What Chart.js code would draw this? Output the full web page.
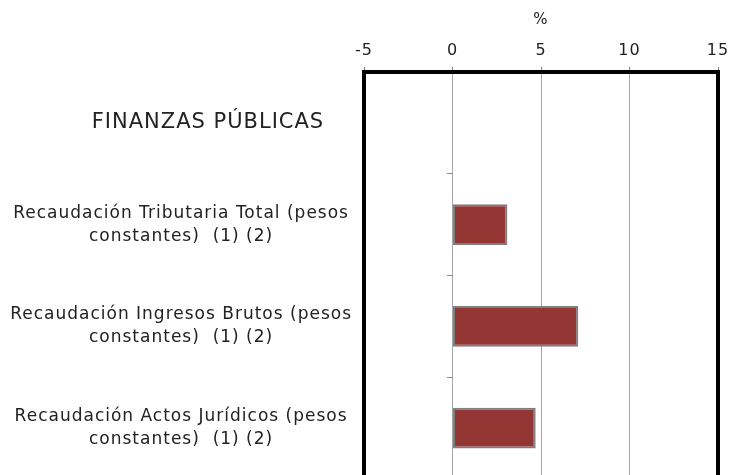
<!DOCTYPE html>
<html>
<head>
<meta charset="utf-8">
<script src="https://cdn.jsdelivr.net/npm/chart.js@4.4.1/dist/chart.umd.min.js"></script>
<style>
    html, body { margin: 0; padding: 0; background: #fff; overflow: hidden; }
    #wrap { width: 733px; height: 480px; }
</style>
</head>
<body>
<div id="wrap"><canvas id="chart" width="733" height="480"></canvas></div>
<script>
// categories (first one is only a section header)
const categories = [
    '\u00a0\u00a0\u00a0\u00a0\u00a0\u00a0\u00a0FINANZAS PÚBLICAS',
    ['Recaudación Tributaria Total (pesos', 'constantes)  (1) (2)'],
    ['Recaudación Ingresos Brutos (pesos', 'constantes)  (1) (2)'],
    ['Recaudación Actos Jurídicos (pesos', 'constantes)  (1) (2)']
];
const values = [null, 3.1, 7.1, 4.7];
const xTicks = [-5, 0, 5, 10, 15];

const fontFamily = '"DejaVu Sans", sans-serif';
const textColor = '#222';

// wide lettering like the original font
const spacingPlugin = {
    id: 'spacing',
    beforeUpdate(chart) { chart.ctx.letterSpacing = '1px'; },
    beforeDraw(chart) { chart.ctx.letterSpacing = '1px'; }
};

// thick black frame around the plot area
const framePlugin = {
    id: 'frame',
    afterDraw(chart) {
        const { ctx, chartArea } = chart;
        ctx.save();
        ctx.strokeStyle = '#000';
        ctx.lineWidth = 4;
        ctx.strokeRect(chartArea.left, chartArea.top, chartArea.right - chartArea.left, chartArea.bottom - chartArea.top);
        ctx.restore();
    }
};

function noPadV(scale) {
    scale.paddingTop = 0;
    scale.paddingBottom = 0;
}

document.addEventListener('DOMContentLoaded', function() {
    const ctx = document.getElementById('chart').getContext('2d');
    new Chart(ctx, {
        type: 'bar',
        data: {
            labels: categories,
            datasets: [{
                data: values,
                backgroundColor: '#943634',
                borderColor: '#7f7f7f',
                borderWidth: 2,
                borderSkipped: false,
                barPercentage: 0.4,
                categoryPercentage: 1,
                yAxisID: 'y'
            }]
        },
        options: {
            indexAxis: 'y',
            responsive: false,
            animation: false,
            layout: { padding: { top: 0, right: 15, bottom: 1, left: 0 } },
            plugins: {
                legend: { display: false },
                tooltip: { enabled: false }
            },
            scales: {
                x: {
                    position: 'top',
                    min: -5,
                    max: 15,
                    afterBuildTicks(scale) {
                        scale.ticks = xTicks.map(v => ({ value: v }));
                    },
                    afterFit(scale) {
                        scale.height = 72;
                        scale.paddingLeft = 0;
                        scale.paddingRight = 0;
                    },
                    grid: {
                        color: '#a6a6a6',
                        lineWidth: 1,
                        tickLength: 5,
                        tickColor: '#808080'
                    },
                    border: { display: false },
                    ticks: {
                        color: textColor,
                        padding: 7,
                        font: { family: fontFamily, size: 16 }
                    },
                    title: {
                        display: true,
                        text: '%',
                        color: textColor,
                        padding: { top: 11, bottom: 0 },
                        font: { family: fontFamily, size: 15 }
                    }
                },
                y: {
                    position: 'left',
                    afterFit(scale) {
                        scale.width = 364;
                        noPadV(scale);
                    },
                    grid: { display: false, drawTicks: false },
                    border: { display: false },
                    ticks: {
                        color: textColor,
                        padding: 12,
                        crossAlign: 'center',
                        font: (c) => c.index === 0
                            ? { family: fontFamily, size: 21 }
                            : { family: fontFamily, size: 17, lineHeight: 1.35 }
                    }
                },
                yMarks: {
                    type: 'category',
                    axis: 'y',
                    position: { x: 0 },
                    offset: true,
                    afterFit: noPadV,
                    grid: {
                        offset: true,
                        drawOnChartArea: false,
                        drawTicks: true,
                        tickLength: 6,
                        tickColor: '#8c8c8c'
                    },
                    border: { display: false },
                    ticks: { display: false }
                }
            }
        },
        plugins: [spacingPlugin, framePlugin]
    });
});
</script>
</body>
</html>
